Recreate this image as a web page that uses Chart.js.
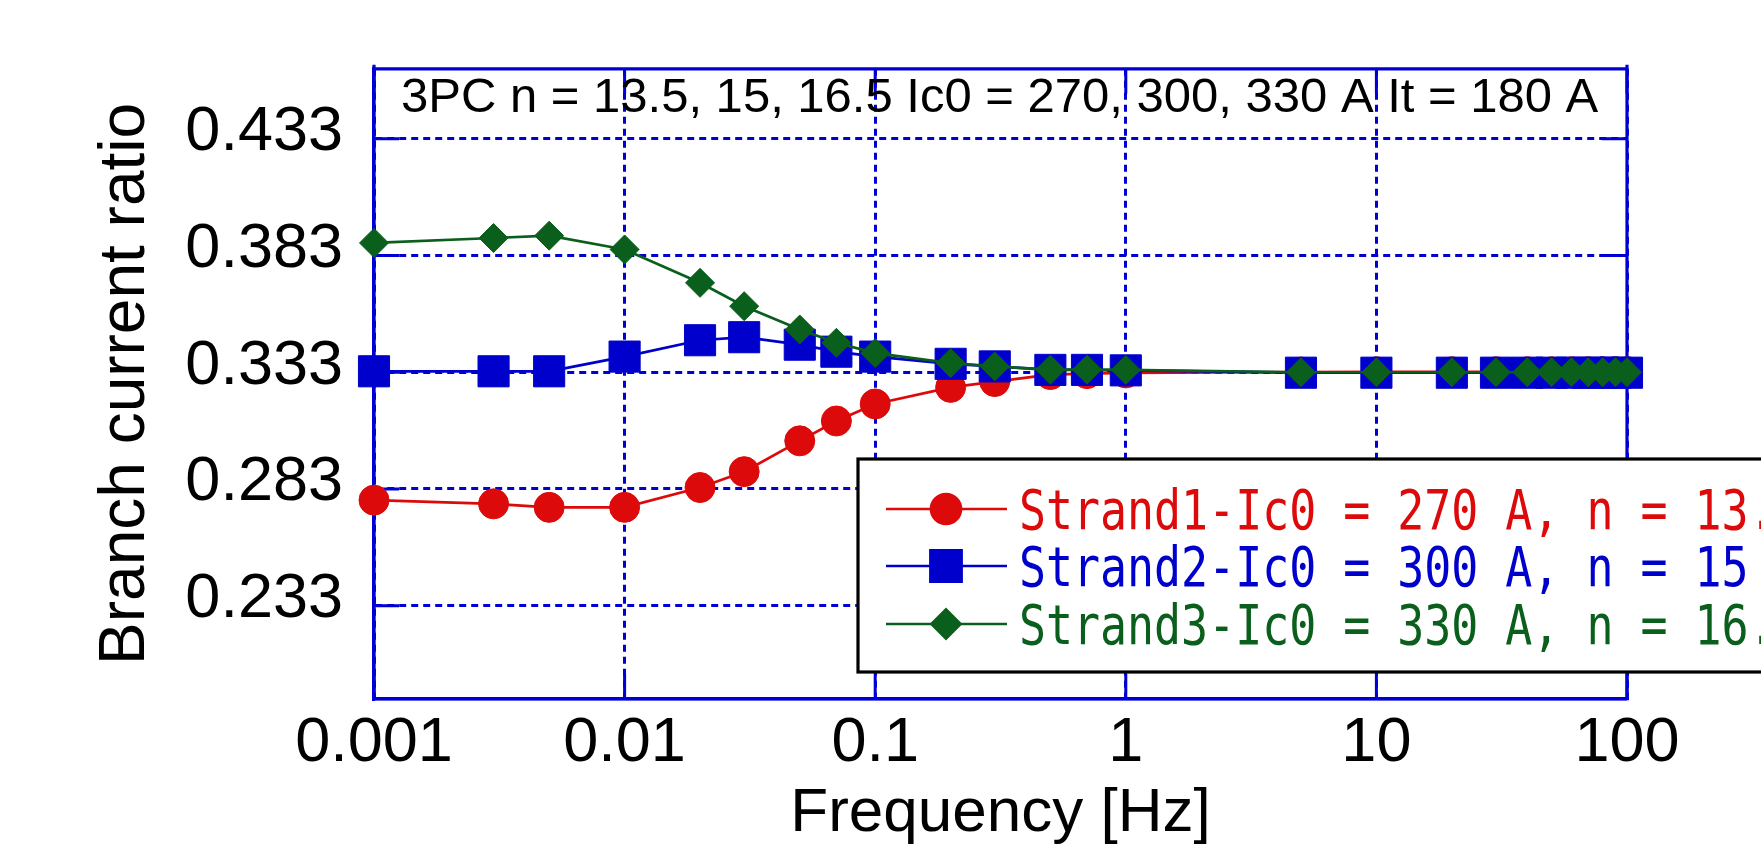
<!DOCTYPE html>
<html><head><meta charset="utf-8">
<script src="https://cdn.jsdelivr.net/npm/chart.js@4.4.1/dist/chart.umd.min.js"></script>
<style>html,body{margin:0;padding:0;background:#fff;overflow:hidden}canvas{display:block}</style>
</head><body>
<canvas id="c" width="1761" height="855"></canvas>
<script>
// ---- data ----
const frequencies = [0.001,0.003,0.005,0.01,0.02,0.03,0.05,0.07,0.1,0.2,0.3,0.5,0.7,1,5,10,20,30,40,50,60,70,80,90,100];
const strand1 = [0.2782,0.2766,0.2751,0.2751,0.2836,0.2904,0.3036,0.3121,0.3194,0.3265,0.3290,0.3320,0.3324,0.3327,0.3331,0.3332,0.3332,0.3332,0.3332,0.3332,0.3332,0.3332,0.3332,0.3332,0.3332];
const strand2 = [0.3334,0.3334,0.3334,0.3397,0.3467,0.3480,0.3448,0.3418,0.3397,0.3366,0.3355,0.3340,0.3340,0.3338,0.3328,0.3328,0.3328,0.3328,0.3328,0.3328,0.3328,0.3328,0.3328,0.3328,0.3328];
const strand3 = [0.3884,0.3905,0.3915,0.3856,0.3713,0.3613,0.3513,0.3456,0.3412,0.3369,0.3355,0.3341,0.3341,0.3340,0.3330,0.3330,0.3330,0.3330,0.3330,0.3330,0.3330,0.3330,0.3330,0.3330,0.3330];
const seriesLabels = ['Strand1-Ic0 = 270 A, n = 13.5','Strand2-Ic0 = 300 A, n = 15','Strand3-Ic0 = 330 A, n = 16.5'];
const xTickValues = [0.001,0.01,0.1,1,10,100];
const xTickLabels = ['0.001','0.01','0.1','1','10','100'];
const yTickValues = [0.233,0.283,0.333,0.383,0.433];
const yTickLabels = ['0.233','0.283','0.333','0.383','0.433'];
const annotationText = '3PC n = 13.5, 15, 16.5 Ic0 = 270, 300, 330 A It = 180 A';
const xTitle = 'Frequency [Hz]';
const yTitle = 'Branch current ratio';

// ---- style ----
const RED = '#dc0a0a', BLUE = '#0000cc', GREEN = '#0a5f1c', AXIS = '#0000d4';
const SANS = '"Liberation Sans", Arial, sans-serif';
const styles = [
  {color: RED, pointStyle: 'circle', radius: 15, order: 2},
  {color: BLUE, pointStyle: 'rect', radius: 22, order: 1},
  {color: GREEN, pointStyle: 'rectRot', radius: 14.5, order: 0}
];
const seriesValues = [strand1, strand2, strand3];

const datasets = seriesValues.map((vals, i) => ({
  label: seriesLabels[i],
  data: frequencies.map((f, j) => ({x: f, y: vals[j]})),
  borderColor: styles[i].color,
  backgroundColor: styles[i].color,
  pointBackgroundColor: styles[i].color,
  pointBorderColor: styles[i].color,
  pointBorderWidth: 1,
  pointStyle: styles[i].pointStyle,
  pointRadius: styles[i].radius,
  borderWidth: 2.7,
  showLine: true,
  tension: 0,
  clip: false,
  order: styles[i].order
}));

const TL = 25;
const framePlugin = {
  id: 'framePlugin',
  beforeDatasetsDraw(chart) {
    const {ctx, chartArea: a, scales: {x, y}} = chart;
    ctx.save();
    ctx.setLineDash([]);
    ctx.strokeStyle = AXIS;
    ctx.lineWidth = 3;
    ctx.beginPath();
    yTickValues.forEach(v => {
      const p = y.getPixelForValue(v);
      ctx.moveTo(a.left, p); ctx.lineTo(a.left + TL, p);
      ctx.moveTo(a.right, p); ctx.lineTo(a.right - TL, p);
    });
    xTickValues.forEach(v => {
      const p = x.getPixelForValue(v);
      ctx.moveTo(p, a.top); ctx.lineTo(p, a.top + TL);
      ctx.moveTo(p, a.bottom); ctx.lineTo(p, a.bottom - TL);
    });
    ctx.stroke();
    ctx.lineWidth = 3.2;
    ctx.beginPath();
    ctx.moveTo(a.left, a.top - 4); ctx.lineTo(a.left, a.bottom);
    ctx.moveTo(a.right, a.top - 4); ctx.lineTo(a.right, a.bottom);
    ctx.moveTo(a.left, a.top); ctx.lineTo(a.right, a.top);
    ctx.moveTo(a.left, a.bottom); ctx.lineTo(a.right, a.bottom);
    ctx.stroke();
    ctx.restore();
  },
  afterDraw(chart) {
    const {ctx} = chart;
    ctx.save();
    // annotation text inside plot
    ctx.fillStyle = '#000';
    ctx.font = '49px ' + SANS;
    ctx.textBaseline = 'alphabetic';
    ctx.textAlign = 'left';
    ctx.fillText(annotationText, 401, 112);

    // legend box
    const bx = 858, by = 459, bh = 213;
    ctx.fillStyle = '#fff';
    ctx.fillRect(bx, by, 1000, bh);
    ctx.strokeStyle = '#000';
    ctx.lineWidth = 3.2;
    ctx.strokeRect(bx, by, 1000, bh);
    const rows = [509, 566, 624];
    seriesLabels.forEach((lab, i) => {
      const yy = rows[i];
      const st = styles[i];
      ctx.strokeStyle = st.color;
      ctx.lineWidth = 2.7;
      ctx.beginPath();
      ctx.moveTo(886, yy); ctx.lineTo(1007, yy);
      ctx.stroke();
      ctx.fillStyle = st.color;
      Chart.helpers.drawPoint(ctx, {pointStyle: st.pointStyle, rotation: 0, radius: st.radius, borderWidth: 1}, 946, yy);
      ctx.save();
      ctx.translate(1019, yy + 20);
      ctx.scale(0.816, 1);
      ctx.font = '55px "DejaVu Sans Mono", monospace';
      ctx.fillStyle = st.color;
      ctx.textBaseline = 'alphabetic';
      ctx.fillText(lab, 0, 0);
      ctx.restore();
    });
    ctx.restore();
  }
};

new Chart(document.getElementById('c'), {
  type: 'line',
  data: {datasets},
  options: {
    responsive: false,
    animation: false,
    layout: {padding: {top: 61, right: 134, left: 0, bottom: 0}},
    plugins: {legend: {display: false}, tooltip: {enabled: false}},
    scales: {
      x: {
        type: 'logarithmic',
        min: 0.001, max: 100,
        afterBuildTicks: s => { s.ticks = xTickValues.map(v => ({value: v})); },
        afterFit: s => { s.height = 156; },
        ticks: {
          autoSkip: false, maxRotation: 0, padding: 7,
          font: {size: 63, family: SANS}, color: '#000',
          callback: (v, i) => xTickLabels[i]
        },
        grid: {color: AXIS, lineWidth: 3, drawTicks: false},
        border: {display: true, color: AXIS, width: 3.2, dash: [7, 5]},
        title: {display: true, text: xTitle, color: '#000', font: {size: 62, family: SANS}, padding: {top: 0, bottom: 4}}
      },
      y: {
        type: 'linear',
        min: 0.193, max: 0.463,
        afterBuildTicks: s => { s.ticks = yTickValues.map(v => ({value: v})); },
        afterFit: s => { s.width = 374; },
        ticks: {
          autoSkip: false, padding: 31, labelOffset: -6,
          font: {size: 63, family: SANS}, color: '#000',
          callback: (v, i) => yTickLabels[i]
        },
        grid: {color: AXIS, lineWidth: 3, drawTicks: false},
        border: {display: true, color: AXIS, width: 3.2, dash: [7, 5]},
        title: {display: true, text: yTitle, color: '#000', font: {size: 64, family: SANS}, padding: {top: 88, bottom: 0}}
      }
    }
  },
  plugins: [framePlugin]
});
</script>
</body></html>
